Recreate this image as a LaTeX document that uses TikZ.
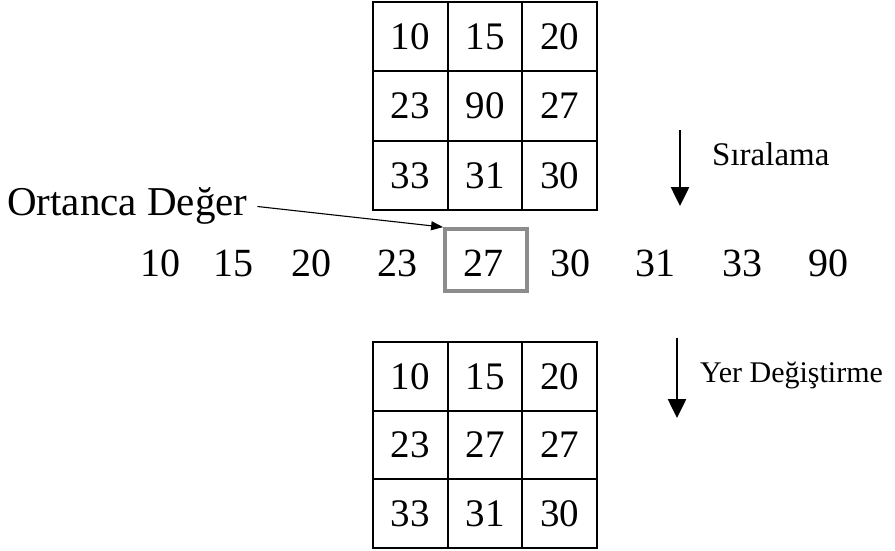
\documentclass[tikz,border=0pt]{standalone}
\usepackage{fontspec}
\setmainfont{Liberation Serif}
\usetikzlibrary{arrows.meta,calc}
\begin{document}
\begin{tikzpicture}[x=1pt,y=-1pt,
  cell/.style={draw=black,line width=1.7pt,minimum width=74.7pt,minimum height=69pt,
    inner sep=0pt,font=\fontsize{39}{39}\selectfont},
  num/.style={inner sep=0pt,font=\fontsize{40}{40}\selectfont},
  medbox/.style={draw=black!45,line width=3.8pt,minimum width=82pt,minimum height=62pt,inner sep=0pt},
  label/.style={inner sep=0pt,anchor=base west},
  bigarrow/.style={line width=2.6pt,-{Triangle[length=19pt,width=18pt]}},
  thinarrow/.style={line width=1.1pt,-{Triangle[length=12pt,width=9pt]}}]
\useasboundingbox (0,0) rectangle (895,551);

% grid before sorting
\foreach \v [count=\i from 0] in {10,15,20,23,90,27,33,31,30} {
  \pgfmathtruncatemacro{\c}{mod(\i,3)}
  \pgfmathtruncatemacro{\r}{div(\i,3)}
  \node[cell] (t\i) at ({373+74.67*(\c+0.5)},{2+69.33*(\r+0.5)}) {\v};
}

% grid after replacing the centre
\foreach \v [count=\i from 0] in {10,15,20,23,27,27,33,31,30} {
  \pgfmathtruncatemacro{\c}{mod(\i,3)}
  \pgfmathtruncatemacro{\r}{div(\i,3)}
  \node[cell] (b\i) at ({373+74.67*(\c+0.5)},{342+68.67*(\r+0.5)}) {\v};
}

% sorted sequence
\foreach \v/\x [count=\i] in {10/160,15/233,20/311,23/397,27/483,30/570,31/655,33/742,90/828} {
  \node[num] (s\i) at (\x,263) {\v};
}
\node[medbox] (med) at (486,260) {};

% median label
\node[label,font=\fontsize{41}{41}\selectfont] (ort) at (7,215) {Ortanca Değer};
\draw[thinarrow,shorten <=10pt] (ort.east) -- (med.north west);

% step arrows and their labels
\coordinate (a1s) at (680,130);
\coordinate (a1e) at (680,206);
\draw[bigarrow] (a1s) -- (a1e);
\node[label,font=\fontsize{33}{33}\selectfont] (sira) at (712,165) {Sıralama};

\coordinate (a2s) at (677,338);
\coordinate (a2e) at (677,418);
\draw[bigarrow] (a2s) -- (a2e);
\node[label,font=\fontsize{30}{30}\selectfont] (yer) at (700,382) {Yer Değiştirme};
\end{tikzpicture}
\end{document}
